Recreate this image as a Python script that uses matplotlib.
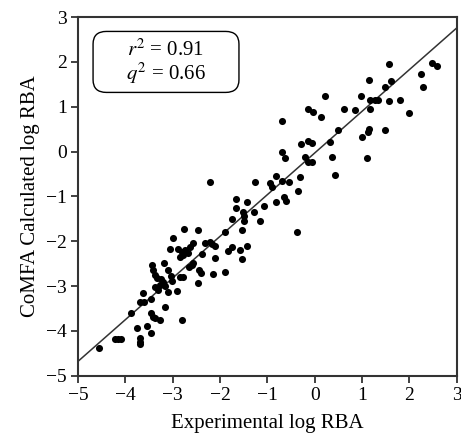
import matplotlib

matplotlib.use('Agg')
import matplotlib.pyplot as plt
from matplotlib.patches import FancyBboxPatch

plt.rcParams['font.family'] = ['Liberation Serif', 'DejaVu Serif']
plt.rcParams['mathtext.fontset'] = 'stix'

# experimental vs calculated log RBA
exp_log_rba = [
    1.56, 2.47, 2.59, 2.24, 2.28, 1.14, 1.62, 1.48, 0.21, 0.97,
    1.16, 1.27, 1.33, 1.56, 1.81, -0.15, -0.04, 0.61, 0.84, 1.16,
    0.13, 2.00, -0.70, 0.49, 1.14, 1.12, 1.48, 0.99, -0.30, -0.15,
    -0.06, 0.32, -0.70, -0.63, -0.21, -0.15, -0.06, 0.36, 1.10, 0.42,
    -0.32, -1.27, -0.95, -0.91, -0.82, -0.70, -0.55, -0.36, -0.82, -0.65,
    -0.61, -1.08, -2.22, -1.67, -1.43, -1.67, -1.52, -1.50, -1.29, -1.75,
    -1.50, -1.16, -1.90, -1.54, -2.47, -0.38, -2.32, -2.22, -2.17, -2.11,
    -2.38, -1.84, -1.75, -1.58, -1.43, -2.11, -1.54, -2.76, -3.00, -3.06,
    -2.89, -2.81, -2.74, -2.64, -2.57, -2.68, -2.85, -2.78, -2.57, -3.44,
    -3.42, -3.38, -3.33, -3.19, -3.10, -3.04, -3.25, -3.21, -3.27, -3.16,
    -3.38, -3.31, -3.02, -2.85, -2.78, -2.66, -2.59, -2.45, -2.41, -2.15,
    -1.90, -2.47, -2.91, -3.10, -3.63, -3.46, -3.16, -3.69, -3.60, -3.88,
    -3.46, -3.42, -3.38, -3.27, -2.81, -3.76, -3.54, -3.46, -3.69, -3.69,
    -3.69, -4.22, -4.15, -4.08, -4.56,
]
calc_log_rba = [
    1.95, 1.98, 1.91, 1.73, 1.44, 1.60, 1.57, 1.44, 1.24, 1.24,
    1.15, 1.15, 1.15, 1.13, 1.15, 0.95, 0.88, 0.95, 0.93, 0.95,
    0.77, 0.86, 0.68, 0.48, 0.51, 0.44, 0.48, 0.33, 0.17, 0.24,
    0.19, 0.22, -0.01, -0.14, -0.12, -0.23, -0.23, -0.12, -0.14, -0.52,
    -0.56, -0.67, -0.70, -0.79, -0.54, -0.65, -0.67, -0.88, -1.12, -1.01,
    -1.10, -1.21, -0.67, -1.05, -1.12, -1.25, -1.34, -1.43, -1.34, -1.50,
    -1.54, -1.54, -1.79, -1.74, -1.74, -1.79, -2.03, -2.01, -2.06, -2.10,
    -2.28, -2.21, -2.12, -2.19, -2.10, -2.37, -2.39, -1.72, -1.92, -2.17,
    -2.17, -2.23, -2.19, -2.12, -2.03, -2.26, -2.35, -2.30, -2.48, -2.52,
    -2.63, -2.75, -2.81, -2.48, -2.63, -2.77, -2.84, -2.90, -2.97, -2.99,
    -3.01, -3.08, -2.88, -2.79, -2.79, -2.57, -2.52, -2.63, -2.70, -2.72,
    -2.68, -2.92, -3.10, -3.12, -3.15, -3.28, -3.46, -3.35, -3.35, -3.59,
    -3.59, -3.68, -3.70, -3.75, -3.75, -3.93, -3.88, -4.04, -4.15, -4.24,
    -4.30, -4.19, -4.19, -4.19, -4.39,
]

# regression line
fit_slope = 0.93
fit_intercept = -0.03
fit_x = [-5, 3]

stats_text = '$r^2$ = 0.91\n$q^2$ = 0.66'

fig = plt.figure(figsize=(4.61, 4.38), dpi=100)
ax = fig.add_axes([0.169, 0.142, 0.822, 0.819])

ax.plot(fit_x, [fit_slope * v + fit_intercept for v in fit_x],
        color='#333333', linewidth=1.1, zorder=2)
ax.scatter(exp_log_rba, calc_log_rba, s=26, color='black', linewidths=0, zorder=3)

ax.set_xlim(-5, 3)
ax.set_ylim(-5, 3)
ax.set_xticks(range(-5, 4))
ax.set_yticks(range(-5, 4))
ax.tick_params(direction='out', length=5, width=1.3, labelsize=14, color='#333333', pad=3)
for sp in ax.spines.values():
    sp.set_linewidth(1.5)
    sp.set_color('#333333')

ax.set_xlabel('Experimental log RBA', fontsize=15, labelpad=7)
ax.set_ylabel('CoMFA Calculated log RBA', fontsize=15, labelpad=4)

box = FancyBboxPatch((0.04, 0.79), 0.385, 0.17, boxstyle='round,pad=0,rounding_size=0.035',
                     transform=ax.transAxes, facecolor='white', edgecolor='black', linewidth=1.0)
ax.add_patch(box)
ax.text(0.232, 0.873, stats_text, transform=ax.transAxes, ha='center', va='center',
        fontsize=15, linespacing=1.0)

fig.savefig('out.png', dpi=100)
